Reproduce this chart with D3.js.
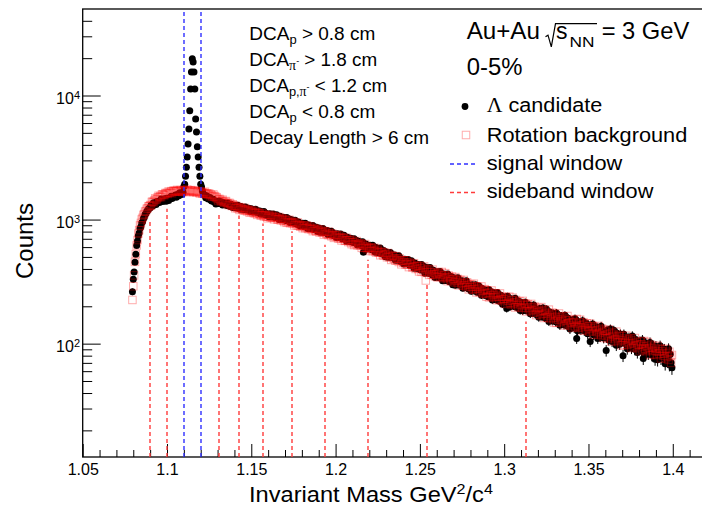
<!DOCTYPE html>
<html>
<head>
<meta charset="utf-8">
<script src="https://cdn.jsdelivr.net/npm/d3@7"></script>
<style>
  html, body { margin: 0; padding: 0; background: #fff; }
  svg { display: block; }
  text { white-space: pre; fill: #000; }
</style>
</head>
<body>
<svg id="chart" width="702" height="507"></svg>
<script>
// ---- Histogram binning: centre of the first bin and bin width (GeV/c^2) ----
const binStart = 1.0795;
const binWidth = 0.0005;

// ---- Lambda candidate counts per bin (one row = 0.01 GeV/c^2) ----
const lambdaCounts = [
  262,
  330,378,452,525,618,672,742,779,846,877,938,962,1018,1038,1101,1117,1168,1179,1221,1228,
  1247,1306,1295,1284,1365,1327,1363,1321,1397,1380,1404,1372,1396,1463,1425,1401,1449,1469,1431,1407,
  1484,1460,1426,1495,1475,1545,1480,1520,1545,1525,1581,1513,1586,1580,1558,1648,1594,1636,1597,1660,
  1850,1930,2230,2640,3190,4070,5380,7520,11300,15500,19800,18600,15500,11300,6480,5080,3860,3190,2640,2230,
  1930,1830,1700,1620,1585,1560,1498,1553,1524,1467,1480,1507,1436,1409,1440,1456,1388,1390,1338,1398,
  1394,1347,1412,1365,1346,1383,1308,1359,1367,1322,1330,1297,1362,1301,1324,1277,1326,1295,1251,1299,
  1267,1302,1272,1242,1303,1246,1268,1212,1273,1243,1252,1208,1217,1265,1222,1192,1227,1235,1192,1162,
  1221,1192,1151,1194,1166,1209,1144,1163,1170,1141,1172,1108,1151,1134,1105,1160,1107,1126,1086,1105,
  1097,1054,1114,1097,1054,1076,1110,1054,1037,1072,1093,1037,1046,1003,1063,1046,1016,999,1046,1016,
  1024,983,1038,997,980,1011,946,989,996,955,962,933,988,935,954,913,956,927,886,929,
  900,932,904,876,932,880,900,848,904,876,884,844,852,896,856,828,860,868,828,800,
  854,828,791,831,806,846,787,805,812,786,816,757,797,782,756,807,759,778,741,759,
  755,718,769,754,717,735,764,716,701,730,748,700,707,670,721,707,681,666,706,680,
  686,652,699,665,651,678,624,660,667,633,639,616,662,545,635,601,637,614,580,616,
  592,621,596,570,622,574,592,545,596,571,578,541,549,589,553,527,556,564,527,502,
  549,528,498,531,509,542,494,509,515,494,518,469,502,490,469,511,472,487,456,471,
  468,439,479,469,440,454,477,440,429,452,466,429,434,406,446,435,415,403,435,415,
  421,392,434,405,393,418,370,403,410,381,388,367,410,371,386,357,391,370,341,373,
  354,379,359,339,382,344,360,322,365,345,352,323,330,364,335,315,341,348,319,299,
  340,322,296,327,309,339,297,311,318,300,322,280,310,301,283,321,287,301,276,290,
  288,265,299,290,267,279,299,269,260,280,292,262,268,245,278,269,254,245,271,256,
  261,239,272,250,241,261,225,251,257,234,240,225,258,229,241,219,246,230,208,234,
  219,238,224,192,241,213,225,198,230,216,222,201,206,232,211,196,214,220,199,185,
  216,203,184,207,194,216,185,196,201,188,205,174,197,190,177,205,180,191,172,183,
  182,163,192,185,166,177,194,169,162,179,190,165,170,151,180,173,160,153,176,163,
  168,150,177,160,154,169,141,162,167,150,154,142,169,147,157,139,160,148,131,153,
  141,155,145,134,159,138,110,127,151,141,145,129,134,153,138,127,141,146,130,120,
  142,131,104,135,125,144,118,128,132,122,136,110,130,124,114,138,117,127,111,121,
  119,88,128,122,107,116,131,110,104,119,128,108,112,97,121,115,105,99,119,108,
  112,80,119,105,100,113,91,108,112,98,102,92,115,96,104,90,108,98,85,101,
  93,104,96,87,107,76,98,81,101,92,96,83,87,102,90,81,93,96,84,75,
  95,86,74,89,81,96,76,83,87,78,90,69,85,80,72,91,68,82,70,64
];

// ---- Rotation background counts per bin ----
const rotationCounts = [
  225,
  290,355,456,527,618,684,771,822,897,940,1003,1032,1091,1108,1158,1172,1221,1232,1279,1281,
  1310,1296,1386,1398,1379,1425,1484,1452,1459,1513,1554,1517,1545,1518,1595,1596,1577,1574,1636,1620,
  1642,1608,1686,1652,1646,1695,1632,1695,1716,1681,1701,1679,1735,1684,1712,1676,1730,1706,1668,1722,
  1692,1731,1705,1680,1745,1692,1718,1664,1728,1698,1710,1666,1678,1725,1682,1650,1690,1698,1652,1620,
  1690,1660,1614,1662,1630,1675,1600,1620,1626,1591,1624,1545,1592,1569,1532,1593,1528,1547,1496,1515,
  1461,1414,1469,1447,1401,1417,1446,1387,1366,1395,1411,1352,1356,1310,1364,1342,1309,1287,1329,1295,
  1276,1234,1291,1248,1231,1264,1196,1241,1248,1207,1213,1184,1241,1186,1206,1164,1208,1178,1136,1181,
  1152,1181,1152,1125,1176,1125,1142,1091,1143,1114,1120,1080,1086,1127,1087,1058,1087,1093,1054,1025,
  1057,1088,1060,1033,1087,1036,1055,1005,1059,1032,1038,1000,1007,1050,1010,983,1014,1022,982,955,
  1009,981,942,983,955,997,934,952,959,931,961,898,940,924,896,949,897,916,876,895,
  889,853,902,888,852,869,897,851,837,865,882,836,842,807,856,841,816,802,841,815,
  821,786,835,799,786,813,757,795,802,766,774,749,798,752,769,733,772,748,712,751,
  726,751,728,704,749,706,722,679,724,701,706,674,679,714,681,659,684,690,657,634,
  678,655,623,658,635,671,619,634,641,618,643,592,626,613,591,635,593,609,576,592,
  588,558,598,586,557,570,593,555,542,565,579,540,546,516,557,544,523,511,542,522,
  526,497,538,509,496,519,473,505,510,482,487,466,507,469,483,455,486,466,436,468,
  449,469,451,433,469,435,448,414,451,432,437,411,416,445,419,400,421,426,400,382,
  423,406,379,409,390,419,377,323,396,378,400,358,387,376,359,395,362,374,349,362,
  367,342,378,369,344,357,378,346,336,357,370,338,343,319,354,345,329,319,347,330,
  334,311,344,322,313,332,295,321,327,304,309,293,326,297,309,286,312,296,274,300,
  285,302,288,273,304,276,288,259,290,276,281,259,265,289,267,252,271,275,254,239,
  269,256,236,259,245,268,237,247,252,238,255,224,246,239,225,254,229,239,220,230,
  228,209,238,231,212,222,239,214,207,224,235,210,215,196,225,217,204,197,220,207,
  212,194,221,203,196,211,182,204,208,190,195,183,209,186,196,178,199,187,170,191,
  179,194,182,170,197,174,184,161,187,175,180,162,167,188,170,158,174,178,161,148,
  174,163,147,167,156,175,149,158,163,152,166,140,159,154,143,167,146,155,140,149,
  148,134,156,150,137,145,158,140,134,148,156,136,141,127,149,143,133,129,146,137,
  138,125,145,132,128,139,118,134,137,125,128,119,139,122,130,117,132,124,111,127,
  116,127,119,110,130,113,121,104,123,115,118,106,109,125,112,103,115,118,106,97,
  115,107,97,110,102,116,98,104,108,100,110,92,106,101,94,111,96,103,92,98,
  98,87,104,99,89,95,105,91,87,96,103,89,92,81,98,93,87,82,96,88,
  91,81,96,86,83,91,76,87,90,80,83,76,91,78,84,74,86,79,70,81
];

// ---- Mass windows ----
const signalWindow = [1.11, 1.12];
const sidebandEdges = [1.09, 1.10, 1.131, 1.143, 1.157, 1.174, 1.194, 1.2195, 1.254, 1.313];
const sidebandTops  = [969, 1220, 1097, 1077, 928, 804, 628, 475, 300, 151];

// ---- Axis ticks ----
const xMajorTicks = [1.05, 1.1, 1.15, 1.2, 1.25, 1.3, 1.35, 1.4];
const xTickLabels = ["1.05", "1.1", "1.15", "1.2", "1.25", "1.3", "1.35", "1.4"];
const yMajorTicks = [100, 1000, 10000];
const yTickExponents = ["2", "3", "4"];

// ---- Text ----
const cutLines = [
  ["DCA", {t: "p", size: 13, dy: 4.5}, {t: " > 0.8 cm", dy: -4.5}],
  ["DCA", {t: "π", size: 14, dy: 4.5, serif: true}, {t: "-", size: 9, dy: -6}, {t: " > 1.8 cm", dy: 1.5}],
  ["DCA", {t: "p,", size: 13, dy: 4.5}, {t: "π", size: 14, serif: true}, {t: "-", size: 9, dy: -6}, {t: " < 1.2 cm", dy: 1.5}],
  ["DCA", {t: "p", size: 13, dy: 4.5}, {t: " < 0.8 cm", dy: -4.5}],
  ["Decay Length > 6 cm"]
];
const cutWidths = [126, 128, 138, 126, 180];

const FONT = '"Liberation Sans", Arial, Helvetica, sans-serif';
const SERIF = '"Liberation Serif", "Times New Roman", serif';

const plot = {left: 82.7, right: 706.5, top: 9, bottom: 457};
const x = d3.scaleLinear().domain([1.05, 1.42]).range([plot.left, plot.right]);
const y = d3.scaleLog().domain([12.2, 49800]).range([plot.bottom, plot.top]);
// window lines straddle two pixel columns so their colour stays visible
const colX = v => Math.round(v);

const svg = d3.select("#chart");

function richText(parent, x0, y0, size, parts, opts = {}) {
  const t = parent.append("text")
    .attr("x", x0).attr("y", y0)
    .attr("font-size", size)
    .attr("font-family", FONT)
    .attr("text-anchor", opts.anchor || "start");
  parts.forEach(p => {
    const s = typeof p === "string" ? {t: p} : p;
    const ts = t.append("tspan").text(s.t);
    if (s.dy) ts.attr("dy", s.dy);
    if (s.size) ts.attr("font-size", s.size);
    if (s.serif) ts.attr("font-family", SERIF);
  });
  if (opts.width) {
    const w = t.node().getComputedTextLength();
    const k = opts.width / w;
    t.attr("transform", `translate(${x0},0) scale(${k},1) translate(${-x0},0)`);
  }
  return t;
}

// ---- Axes (ticks point into the frame) ----
const xMinor = d3.range(105, 143).map(i => i / 100)
  .filter(v => !xMajorTicks.some(m => Math.abs(m - v) < 1e-9));

function cleanAxis(g) {
  g.select(".domain").remove();
  g.attr("font-family", null).attr("font-size", null);
  g.selectAll("line").attr("stroke", "#000").attr("stroke-width", 1);
}

svg.append("g")
  .attr("transform", `translate(0,${plot.bottom})`)
  .call(d3.axisBottom(x).tickValues(xMinor).tickSize(-7).tickFormat(""))
  .call(cleanAxis);

const xAxis = svg.append("g")
  .attr("transform", `translate(0,${plot.bottom})`)
  .call(d3.axisBottom(x).tickValues(xMajorTicks).tickSize(-13).tickPadding(7)
    .tickFormat((d, i) => xTickLabels[i]))
  .call(cleanAxis);
xAxis.selectAll("text")
  .attr("font-family", FONT).attr("font-size", 16).attr("fill", "#000");

const yMinor = [];
[10, 100, 1000, 10000].forEach(dec => {
  for (let k = 2; k <= 9; k++) {
    const v = dec * k;
    if (v > y.domain()[0] && v < y.domain()[1]) yMinor.push(v);
  }
});

svg.append("g")
  .attr("transform", `translate(${plot.left},0)`)
  .call(d3.axisLeft(y).tickValues(yMinor).tickSize(-9.5).tickFormat(""))
  .call(cleanAxis);

svg.append("g")
  .attr("transform", `translate(${plot.left},0)`)
  .call(d3.axisLeft(y).tickValues(yMajorTicks).tickSize(-18).tickFormat(""))
  .call(cleanAxis);

// Power-of-ten labels
yMajorTicks.forEach((v, i) => {
  richText(svg, 80, y(v) + 8.5, 16,
    ["10", {t: yTickExponents[i], size: 11, dy: -5.5}], {anchor: "end"});
});

// Frame
svg.append("rect")
  .attr("x", plot.left).attr("y", plot.top)
  .attr("width", plot.right - plot.left).attr("height", plot.bottom - plot.top)
  .attr("fill", "none").attr("stroke", "#000").attr("stroke-width", 1.3);

// ---- Data ----
const lambdaBins = lambdaCounts.map((c, i) => ({m: binStart + i * binWidth, c}));
const rotationBins = rotationCounts.map((c, i) => ({m: binStart + i * binWidth, c}));

const marks = svg.append("g");

// statistical error bars of the candidate histogram
marks.append("g").selectAll("line").data(lambdaBins).join("line")
  .attr("x1", d => x(d.m)).attr("x2", d => x(d.m))
  .attr("y1", d => y(d.c + Math.sqrt(d.c)))
  .attr("y2", d => y(Math.max(d.c - Math.sqrt(d.c), 1)))
  .attr("stroke", "#000").attr("stroke-width", 1);

marks.append("g").selectAll("circle").data(lambdaBins).join("circle")
  .attr("cx", d => x(d.m)).attr("cy", d => y(d.c)).attr("r", 3.5)
  .attr("fill", "#000");

const sq = 7.5;
const SQ_STROKE = "rgba(255,0,0,0.33)";
marks.append("g").selectAll("rect").data(rotationBins).join("rect")
  .attr("x", d => x(d.m) - sq / 2).attr("y", d => y(d.c) - sq / 2)
  .attr("width", sq).attr("height", sq)
  .attr("fill", "none").attr("stroke", SQ_STROKE).attr("stroke-width", 1);

// ---- Signal and sideband windows ----
const BLUE = "#2f2fff", RED = "#ff3b3b";
const LINE_W = 1.4;
svg.append("g").selectAll("line").data(sidebandEdges).join("line")
  .attr("x1", d => colX(x(d))).attr("x2", d => colX(x(d)))
  .attr("y1", plot.bottom)
  .attr("y2", (d, i) => y(sidebandTops[i]))
  .attr("stroke", RED).attr("stroke-width", LINE_W).attr("stroke-dasharray", "4,3");

svg.append("g").selectAll("line").data(signalWindow).join("line")
  .attr("x1", d => colX(x(d))).attr("x2", d => colX(x(d)))
  .attr("y1", plot.bottom).attr("y2", plot.top)
  .attr("stroke", BLUE).attr("stroke-width", LINE_W).attr("stroke-dasharray", "4,3");

// ---- Axis titles ----
richText(svg, 249, 502, 22,
  ["Invariant Mass GeV", {t: "2", size: 15, dy: -8}, {t: "/c", dy: 8}, {t: "4", size: 15, dy: -8}],
  {width: 244});

svg.append("text")
  .attr("transform", "translate(33,241) rotate(-90)")
  .attr("text-anchor", "middle")
  .attr("font-family", FONT).attr("font-size", 24)
  .text("Counts");

// ---- Selection cuts ----
cutLines.forEach((parts, i) => {
  richText(svg, 249.3, 40 + 26 * i, 19, parts, {width: cutWidths[i]});
});

// ---- Header ----
richText(svg, 466.7, 39.5, 23.5, ["Au+Au"], {width: 73.3});
svg.append("path")
  .attr("d", "M545.5,36.8 L548,35.2 L551.3,46.8 L555.5,23.6 L597,23.6")
  .attr("fill", "none").attr("stroke", "#000").attr("stroke-width", 1.2);
richText(svg, 556, 39.5, 23.5, ["s"], {width: 11.5});
richText(svg, 569.5, 46.7, 15, ["NN"], {width: 25});
richText(svg, 601.7, 39.5, 23.5, ["= 3 GeV"], {width: 87.6});
richText(svg, 466.7, 75, 23.5, ["0-5%"], {width: 55.7});

// ---- Legend ----
const legendX = 486.7;
svg.append("circle").attr("cx", 465).attr("cy", 106.5).attr("r", 3.4).attr("fill", "#000");
richText(svg, legendX, 111.7, 21, [{t: "Λ", serif: true}, " candidate"], {width: 115.7});

svg.append("rect").attr("x", 466 - sq / 2).attr("y", 135 - sq / 2)
  .attr("width", sq).attr("height", sq)
  .attr("fill", "none").attr("stroke", SQ_STROKE).attr("stroke-width", 1);
richText(svg, legendX, 141.7, 21, ["Rotation background"], {width: 200.7});

svg.append("line").attr("x1", 450).attr("x2", 478).attr("y1", 164).attr("y2", 164)
  .attr("stroke", BLUE).attr("stroke-width", LINE_W).attr("stroke-dasharray", "4,3");
richText(svg, legendX, 170, 21, ["signal window"], {width: 135.7});

svg.append("line").attr("x1", 450).attr("x2", 478).attr("y1", 192.5).attr("y2", 192.5)
  .attr("stroke", RED).attr("stroke-width", LINE_W).attr("stroke-dasharray", "4,3");
richText(svg, legendX, 198.3, 21, ["sideband window"], {width: 166.7});
</script>
</body>
</html>
